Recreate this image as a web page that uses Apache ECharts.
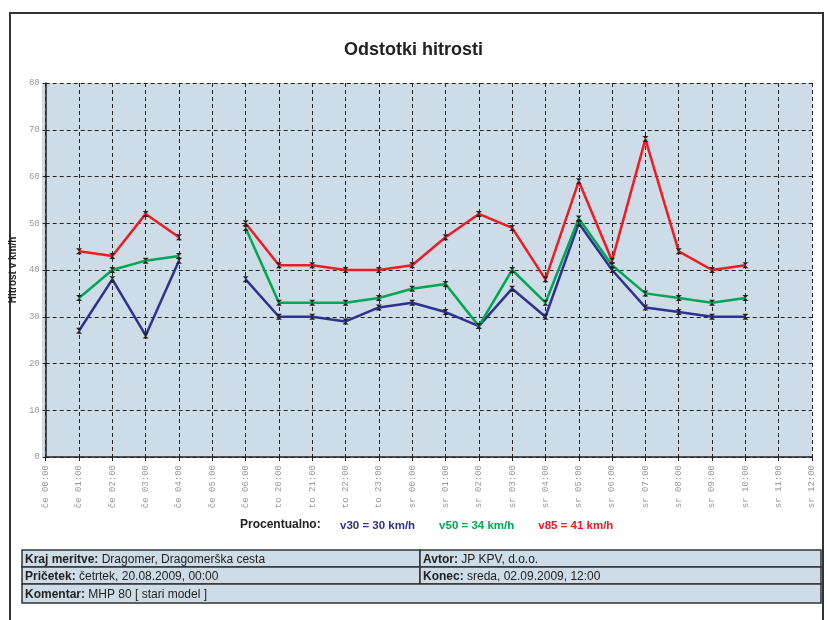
<!DOCTYPE html>
<html>
<head>
<meta charset="utf-8">
<script src="https://cdn.jsdelivr.net/npm/echarts@6/dist/echarts.min.js"></script>
<style>
  html, body { margin: 0; padding: 0; background: #fff; }
  #chart { width: 827px; height: 620px; }
</style>
</head>
<body>
<div id="chart"></div>
<script>
// kategorije (ure)
const categories = [
  "če 00:00", "če 01:00", "če 02:00", "če 03:00", "če 04:00", "če 05:00", "če 06:00",
  "to 20:00", "to 21:00", "to 22:00", "to 23:00",
  "sr 00:00", "sr 01:00", "sr 02:00", "sr 03:00", "sr 04:00", "sr 05:00", "sr 06:00",
  "sr 07:00", "sr 08:00", "sr 09:00", "sr 10:00", "sr 11:00", "sr 12:00"
];
// hitrosti po urah (km/h)
const v30 = [null, 27, 38, 26, 42, null, 38, 30, 30, 29, 32, 33, 31, 28, 36, 30, 50, 40, 32, 31, 30, 30, null, null];
const v50 = [null, 34, 40, 42, 43, null, 49, 33, 33, 33, 34, 36, 37, 28, 40, 33, 51, 41, 35, 34, 33, 34, null, null];
const v85 = [null, 44, 43, 52, 47, null, 50, 41, 41, 40, 40, 41, 47, 52, 49, 38, 59, 42, 68, 44, 40, 41, null, null];
// procentualno
const seriesNames = ["v30", "v50", "v85"];
const percentValues = [30, 34, 41];
const seriesColors = ["#2e3192", "#00a651", "#ed1c24"];
const yTicks = [0, 80, 10];

const chart = echarts.init(document.getElementById("chart"), null, { renderer: "canvas" });

const marker = "path://M0,0 L10,0 L5,5 L10,10 L0,10 L5,5 Z";
const fillBlue = "#cddce6";
const sans = "Liberation Sans, Arial, sans-serif";
const mono = "Liberation Mono, Courier New, monospace";

function makeSeries(name, data, color) {
  return {
    name: name,
    type: "line",
    data: data,
    connectNulls: false,
    symbol: marker,
    symbolSize: [6, 6],
    itemStyle: { color: "#222" },
    lineStyle: { color: color, width: 2.5 },
    z: 3,
    animation: false
  };
}

// tabela spodaj
const rowH = 17;
const tLeft = 22, tRight = 821, tSplit = 420, tTop = 550;
function cell(x, y, w, h) {
  return {
    type: "rect",
    shape: { x: x, y: y, width: w, height: h },
    style: { fill: fillBlue, stroke: "#333", lineWidth: 1.5 }
  };
}
function cellText(x, y, label, value) {
  return {
    type: "text",
    x: x, y: y,
    style: {
      text: "{b|" + label + "} " + value,
      font: "12px " + sans,
      fill: "#222",
      verticalAlign: "middle",
      rich: { b: { fontWeight: "bold", fontSize: 12, fontFamily: sans, fill: "#222" } }
    }
  };
}

const option = {
  backgroundColor: "#fff",
  animation: false,
  title: {
    text: "Odstotki hitrosti",
    left: "center",
    top: 36,
    textStyle: { fontFamily: sans, fontSize: 18, fontWeight: "bold", color: "#222" }
  },
  legend: {
    left: 330,
    top: 514,
    icon: "none",
    itemWidth: 0,
    itemGap: 19,
    selectedMode: false,
    data: seriesNames.map(function (n, i) {
      return { name: n, textStyle: { color: seriesColors[i] } };
    }),
    formatter: function (name) {
      const i = seriesNames.indexOf(name);
      return name + " = " + percentValues[i] + " km/h";
    },
    textStyle: { fontFamily: sans, fontSize: 11.5, fontWeight: "bold" }
  },
  grid: { left: 42, right: 15, top: 83, bottom: 163, containLabel: false },
  xAxis: {
    type: "category",
    data: categories,
    boundaryGap: false,
    axisLine: { lineStyle: { color: "#222", width: 1.5 } },
    axisTick: { show: true, length: 4, lineStyle: { color: "#222" } },
    axisLabel: {
      rotate: 90,
      interval: 0,
      fontFamily: mono,
      fontSize: 9,
      color: "#999",
      margin: 8
    },
    splitLine: { show: true, lineStyle: { color: "#222", type: [4, 3], width: 1 } },
    splitArea: { show: false }
  },
  yAxis: {
    type: "value",
    min: yTicks[0],
    max: yTicks[1],
    interval: yTicks[2],
    name: "Hitrost v km/h",
    nameLocation: "middle",
    nameGap: 26,
    nameRotate: 90,
    nameTextStyle: { fontFamily: sans, fontSize: 10, fontWeight: "bold", color: "#222" },
    axisLine: { show: true, lineStyle: { color: "#222", width: 1.5 } },
    axisTick: { show: true, length: 3, lineStyle: { color: "#222" } },
    axisLabel: { fontFamily: mono, fontSize: 9, color: "#999", margin: 6 },
    splitLine: { show: true, lineStyle: { color: "#222", type: [4, 3], width: 1 } }
  },
  graphic: [
    // okvir strani
    {
      type: "rect",
      shape: { x: 10, y: 13, width: 813, height: 640 },
      style: { fill: "none", stroke: "#333", lineWidth: 2 },
      z: -1
    },
    // ozadje grafa
    {
      type: "rect",
      shape: { x: 42, y: 83, width: 770, height: 374 },
      style: { fill: fillBlue },
      z: -1
    },
    {
      type: "text",
      x: 240, y: 519,
      style: { text: "Procentualno:", font: "bold 12px " + sans, fill: "#222" }
    },
    cell(tLeft, tTop, tSplit - tLeft, rowH),
    cell(tSplit, tTop, tRight - tSplit, rowH),
    cell(tLeft, tTop + rowH, tSplit - tLeft, rowH),
    cell(tSplit, tTop + rowH, tRight - tSplit, rowH),
    cell(tLeft, tTop + rowH * 2, tRight - tLeft, rowH + 2),
    cellText(25, tTop + rowH / 2 + 1, "Kraj meritve:", "Dragomer, Dragomerška cesta"),
    cellText(tSplit + 3, tTop + rowH / 2 + 1, "Avtor:", "JP KPV, d.o.o."),
    cellText(25, tTop + rowH * 1.5 + 1, "Pričetek:", "četrtek, 20.08.2009, 00:00"),
    cellText(tSplit + 3, tTop + rowH * 1.5 + 1, "Konec:", "sreda, 02.09.2009, 12:00"),
    cellText(25, tTop + rowH * 2.5 + 2, "Komentar:", "MHP 80 [ stari model ]")
  ],
  series: [
    makeSeries("v30", v30, seriesColors[0]),
    makeSeries("v50", v50, seriesColors[1]),
    makeSeries("v85", v85, seriesColors[2])
  ]
};

chart.setOption(option);
</script>
</body>
</html>
